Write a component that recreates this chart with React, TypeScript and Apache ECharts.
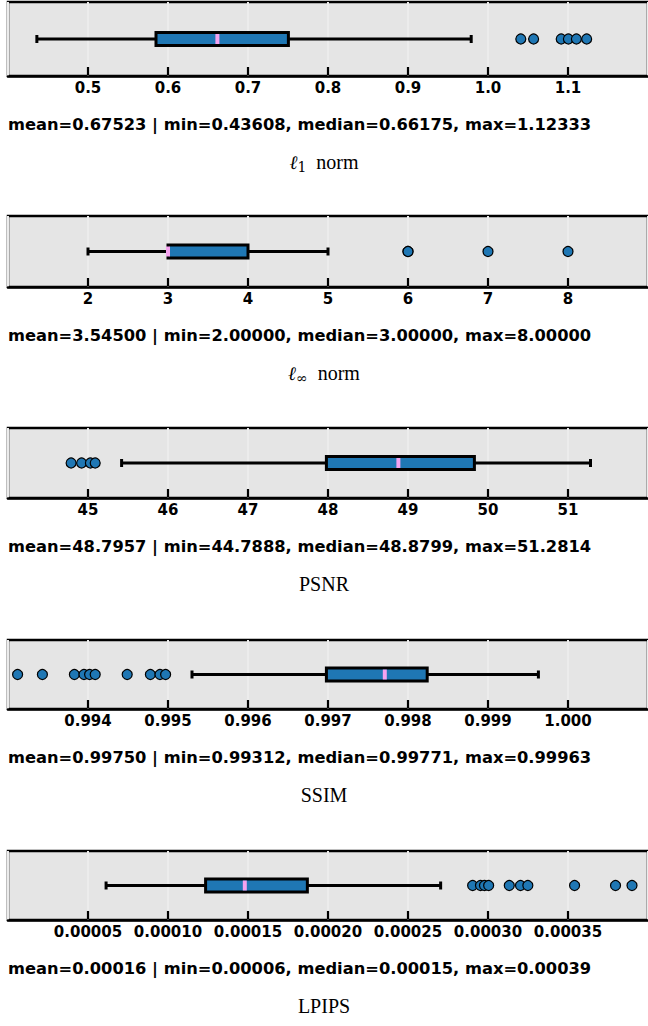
import React, { useEffect, useRef } from "react";
import * as echarts from "echarts";

// ---- data ----
// box stats: [whiskerLow, Q1, median, Q3, whiskerHigh]
const l1Box = [0.43608, 0.585, 0.66175, 0.7505, 0.979];
const l1Outliers = [1.041, 1.057, 1.0915, 1.1005, 1.1105, 1.12333];
const linfBox = [2, 3, 3, 4, 5];
const linfOutliers = [6, 6, 7, 8];
const psnrBox = [45.42, 47.98, 48.8799, 49.83, 51.2814];
const psnrOutliers = [44.7888, 44.92, 45.03, 45.09];
const ssimBox = [0.9953, 0.99698, 0.99771, 0.99824, 0.99963];
const ssimOutliers = [0.99312, 0.99343, 0.99383, 0.99395, 0.99402, 0.99409, 0.99449, 0.99478, 0.9949, 0.99497];
const lpipsBox = [0.0000613, 0.0001235, 0.000148, 0.0001871, 0.0002704];
const lpipsOutliers = [0.0002904, 0.0002953, 0.0002978, 0.0003004, 0.0003133, 0.0003203, 0.0003249, 0.0003541, 0.0003797, 0.00039];

const axisMin = [0.4, 1, 44, 0.993, 0];
const axisMax = [1.2, 9, 52, 1.001, 0.0004];
const axisInterval = [0.1, 1, 1, 0.001, 0.00005];
const axisDecimals = [1, 0, 0, 3, 5];

const statsTexts = [
  "mean=0.67523 | min=0.43608, median=0.66175, max=1.12333",
  "mean=3.54500 | min=2.00000, median=3.00000, max=8.00000",
  "mean=48.7957 | min=44.7888, median=48.8799, max=51.2814",
  "mean=0.99750 | min=0.99312, median=0.99771, max=0.99963",
  "mean=0.00016 | min=0.00006, median=0.00015, max=0.00039",
];
// titles: [main, subscript, rest]
const titleParts: [string, string, string][] = [
  ["ℓ", "1", "  norm"],
  ["ℓ", "∞", "  norm"],
  ["", "", "PSNR"],
  ["", "", "SSIM"],
  ["", "", "LPIPS"],
];

const boxes = [l1Box, linfBox, psnrBox, ssimBox, lpipsBox];
const outliers = [l1Outliers, linfOutliers, psnrOutliers, ssimOutliers, lpipsOutliers];

// ---- layout ----
const panelTop = [2, 216, 428, 640, 851];
const panelBottom = [76, 287, 498, 709, 920];

export default function App() {
  const ref = useRef<HTMLDivElement>(null);
  useEffect(() => {
    const chart = echarts.init(ref.current!, null, { renderer: "svg" });
    const grids: any[] = [];
    const xAxes: any[] = [];
    const yAxes: any[] = [];
    const series: any[] = [];
    const graphics: any[] = [];

    boxes.forEach((b, i) => {
      grids.push({
        left: 8,
        right: -2,
        top: panelTop[i],
        height: panelBottom[i] - panelTop[i],
        show: true,
        backgroundColor: "#e5e5e5",
        borderColor: "#000",
        borderWidth: 2.5,
      });
      const dec = axisDecimals[i];
      xAxes.push({
        type: "value",
        gridIndex: i,
        position: "bottom",
        min: axisMin[i],
        max: axisMax[i],
        interval: axisInterval[i],
        axisLine: { show: true, onZero: true, lineStyle: { color: "#000", width: 2.5 } },
        axisTick: { show: false },
        splitLine: { show: true, lineStyle: { color: "#ececec", width: 2 } },
        axisLabel: {
          show: true,
          showMinLabel: false,
          showMaxLabel: false,
          margin: 4,
          color: "#000",
          fontFamily: "DejaVu Sans",
          fontWeight: "bold",
          fontSize: 15,
          formatter: (v: number) => v.toFixed(dec),
        },
      });
      yAxes.push({ type: "value", gridIndex: i, min: 0, max: 2, show: false });

      const nTicks = Math.round((axisMax[i] - axisMin[i]) / axisInterval[i]);
      const tickVals: number[] = [];
      for (let k = 1; k < nTicks; k++) tickVals.push(axisMin[i] + k * axisInterval[i]);

      // inward tick marks as their own series, placed by the axis scale
      series.push({
        type: "custom",
        xAxisIndex: i,
        yAxisIndex: i,
        encode: { x: 0, y: 1 },
        data: tickVals.map((t) => [t, 0]),
        z: 10,
        silent: true,
        renderItem: (params: any, api: any) => {
          const p = api.coord([api.value(0), api.value(1)]);
          return {
            type: "line",
            shape: { x1: p[0], y1: p[1] - 1, x2: p[0], y2: p[1] - 9 },
            style: { stroke: "#000", lineWidth: 2.2 },
          };
        },
      });

      series.push({
        type: "custom",
        xAxisIndex: i,
        yAxisIndex: i,
        encode: { x: [0, 1, 2, 3, 4] },
        data: [b],
        z: 2,
        renderItem: (params: any, api: any) => {
          const lo = api.coord([api.value(0), 1]);
          const q1 = api.coord([api.value(1), 1]);
          const med = api.coord([api.value(2), 1]);
          const q3 = api.coord([api.value(3), 1]);
          const hi = api.coord([api.value(4), 1]);
          const y = lo[1];
          const bh = 13;
          const cap = 4;
          const ls = { stroke: "#000", lineWidth: 3 };
          return {
            type: "group",
            children: [
              { type: "line", shape: { x1: lo[0], y1: y, x2: q1[0], y2: y }, style: ls },
              { type: "line", shape: { x1: q3[0], y1: y, x2: hi[0], y2: y }, style: ls },
              { type: "line", shape: { x1: lo[0], y1: y - cap, x2: lo[0], y2: y + cap }, style: ls },
              { type: "line", shape: { x1: hi[0], y1: y - cap, x2: hi[0], y2: y + cap }, style: ls },
              {
                type: "rect",
                shape: { x: q1[0], y: y - bh / 2, width: q3[0] - q1[0], height: bh },
                style: { fill: "#1f77b4", stroke: "#000", lineWidth: 3 },
              },
              {
                type: "rect",
                shape: { x: med[0] - 2, y: y - bh / 2 + 1.5, width: 4, height: bh - 3 },
                style: { fill: "#f5a3f0" },
              },
            ],
          };
        },
      });
      series.push({
        type: "scatter",
        xAxisIndex: i,
        yAxisIndex: i,
        z: 3,
        symbol: "circle",
        symbolSize: 10,
        itemStyle: { color: "#1f77b4", borderColor: "#000", borderWidth: 1.2, opacity: 1 },
        data: outliers[i].map((v) => [v, 1]),
      });

      graphics.push({
        type: "text",
        left: 8,
        top: panelBottom[i] + 40,
        style: {
          text: statsTexts[i],
          font: 'bold 16.3px "DejaVu Sans"',
          fill: "#000",
        },
      });
      const [m, s, r] = titleParts[i];
      const txt = (m ? `{m|${m}}` : "") + (s ? `{s|${s}}` : "") + `{r|${r}}`;
      graphics.push({
        type: "text",
        left: "center",
        top: panelBottom[i] + 76,
        style: {
          text: txt,
          fill: "#000",
          rich: {
            m: { fontFamily: "DejaVu Serif", fontStyle: "italic", fontSize: 19, lineHeight: 24, verticalAlign: "middle", fill: "#000" },
            s: { fontFamily: "DejaVu Serif", fontSize: 14, lineHeight: 13, verticalAlign: "bottom", fill: "#000" },
            r: { fontFamily: "Liberation Serif", fontSize: 20, lineHeight: 24, verticalAlign: "middle", fill: "#000" },
          },
        },
      });
    });

    chart.setOption({
      animation: false,
      grid: grids,
      xAxis: xAxes,
      yAxis: yAxes,
      series,
      graphic: graphics,
    });
    return () => chart.dispose();
  }, []);
  return (
    <div
      ref={ref}
      style={{ position: "fixed", left: 0, top: 0, width: 648, height: 1026, background: "#fff" }}
    />
  );
}
